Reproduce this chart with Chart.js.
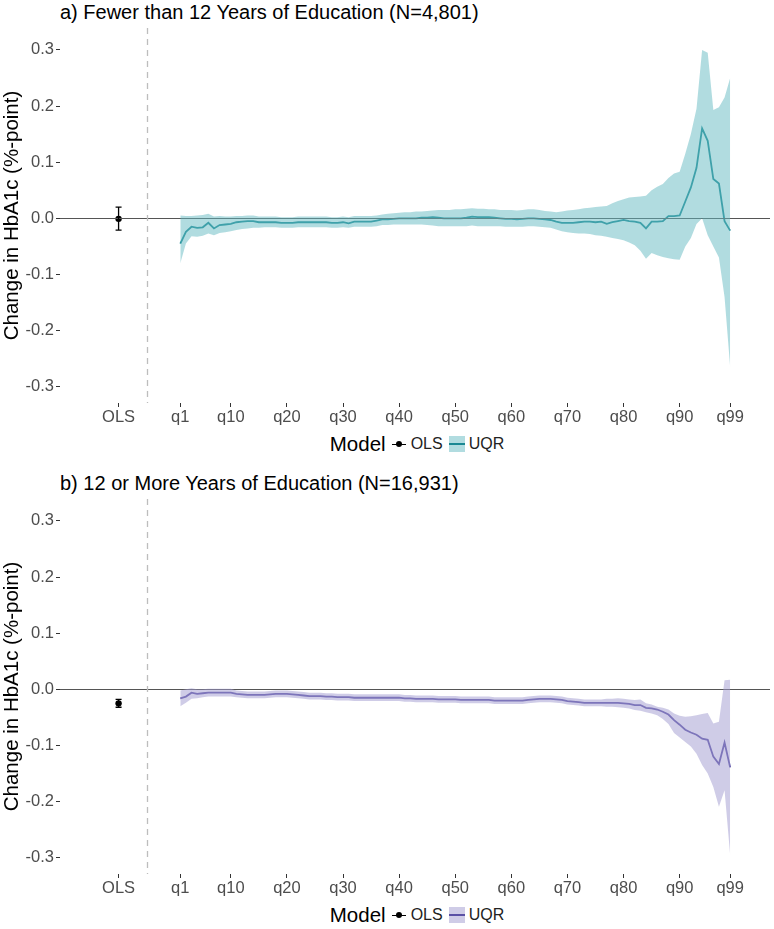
<!DOCTYPE html>
<html>
<head>
<meta charset="utf-8">
<script src="https://cdn.jsdelivr.net/npm/chart.js@4.4.0/dist/chart.umd.min.js"></script>
<style>
  body { margin: 0; background: #fff; width: 774px; height: 929px; position: relative; overflow: hidden;
         font-family: "Liberation Sans", Arial, sans-serif; }
  .panel { position: absolute; left: 0; }
  .title { position: absolute; left: 60px; font-size: 20px; color: #000; white-space: nowrap; line-height: 22px; }
  .legend { position: absolute; left: 60px; width: 714px; display: flex; justify-content: center; align-items: center;
            font-size: 16px; color: #222; line-height: 22px; }
  .legend .name { font-size: 20.5px; color: #000; margin-right: 5px; }
  .key { position: relative; display: inline-block; width: 16px; height: 16px; margin-right: 4px; }
  .key.pt::before { content: ""; position: absolute; left: 1px; right: 1px; top: 7.5px; height: 1px; background: #000; }
  .key.pt::after { content: ""; position: absolute; left: 5px; top: 5px; width: 6px; height: 6px; border-radius: 50%; background: #000; }
  .key.rib::after { content: ""; position: absolute; left: 0; right: 0; top: 7px; height: 2px; }
  #keyA { background: rgba(100,186,194,0.5); }
  #keyB { background: rgba(160,154,208,0.5); }
  #keyA::after { background: #1a8893; }
  #keyB::after { background: #5a50a5; }
</style>
</head>
<body>
<div class="title" style="top:1px">a) Fewer than 12 Years of Education (N=4,801)</div>
<canvas id="chartA" class="panel" width="774" height="430" style="top:0"></canvas>
<div class="legend" style="top:433px">
  <span class="name">Model</span>
  <span class="key pt"></span><span style="margin-right:6px">OLS</span>
  <span class="key rib" id="keyA"></span><span>UQR</span>
</div>

<div class="title" style="top:472px">b) 12 or More Years of Education (N=16,931)</div>
<canvas id="chartB" class="panel" width="774" height="430" style="top:471px"></canvas>
<div class="legend" style="top:904px">
  <span class="name">Model</span>
  <span class="key pt"></span><span style="margin-right:6px">OLS</span>
  <span class="key rib" id="keyB"></span><span>UQR</span>
</div>

<script>
// quantile positions q1..q99
const quantiles = Array.from({ length: 99 }, (_, i) => i + 1);
const olsPos = -10;
const xTickValues = [-10, 1, 10, 20, 30, 40, 50, 60, 70, 80, 90, 99];
const xTickLabels = ["OLS", "q1", "q10", "q20", "q30", "q40", "q50", "q60", "q70", "q80", "q90", "q99"];
const yTickValues = [-0.3, -0.2, -0.1, 0, 0.1, 0.2, 0.3];
const yTickLabels = ["-0.3", "-0.2", "-0.1", "0.0", "0.1", "0.2", "0.3"];

// OLS estimates [panel a, panel b]
const olsEst = [-0.001, -0.025];
const olsLow = [-0.021, -0.032];
const olsHigh = [0.020, -0.018];

// panel a: fewer than 12 years
const uqrEstA = [
  -0.045, -0.024, -0.015, -0.017, -0.016, -0.008, -0.018, -0.012, -0.011, -0.010,
  -0.007, -0.006, -0.005, -0.005, -0.007, -0.007, -0.007, -0.007, -0.008, -0.008,
  -0.008, -0.007, -0.007, -0.007, -0.007, -0.007, -0.007, -0.008, -0.008, -0.007,
  -0.009, -0.006, -0.006, -0.006, -0.006, -0.004, -0.002, -0.002, -0.001, 0.000,
  0.000, 0.000, 0.000, 0.001, 0.001, 0.002, 0.001, 0.000, 0.000, 0.000,
  0.000, 0.001, 0.003, 0.002, 0.002, 0.002, 0.001, 0.000, -0.001, -0.001,
  -0.002, -0.001, 0.000, 0.000, -0.001, -0.002, -0.003, -0.006, -0.008, -0.008,
  -0.008, -0.007, -0.006, -0.006, -0.007, -0.006, -0.010, -0.007, -0.005, -0.003,
  -0.005, -0.006, -0.008, -0.018, -0.006, -0.006, -0.005, 0.004, 0.004, 0.005,
  0.030, 0.055, 0.090, 0.160, 0.138, 0.070, 0.062, -0.005, -0.022
];
const uqrLowA = [
  -0.080, -0.045, -0.032, -0.033, -0.031, -0.027, -0.030, -0.026, -0.025, -0.023,
  -0.021, -0.019, -0.018, -0.017, -0.017, -0.016, -0.016, -0.016, -0.017, -0.017,
  -0.017, -0.016, -0.016, -0.016, -0.016, -0.016, -0.016, -0.017, -0.017, -0.016,
  -0.017, -0.015, -0.015, -0.015, -0.015, -0.014, -0.012, -0.012, -0.011, -0.011,
  -0.011, -0.011, -0.011, -0.011, -0.012, -0.013, -0.014, -0.014, -0.014, -0.014,
  -0.014, -0.014, -0.013, -0.014, -0.014, -0.014, -0.014, -0.014, -0.015, -0.015,
  -0.015, -0.015, -0.014, -0.014, -0.015, -0.016, -0.017, -0.020, -0.023, -0.025,
  -0.026, -0.027, -0.027, -0.028, -0.030, -0.031, -0.033, -0.035, -0.037, -0.039,
  -0.043, -0.048, -0.058, -0.072, -0.062, -0.066, -0.069, -0.071, -0.073, -0.074,
  -0.050, -0.035, -0.010, 0.000, -0.030, -0.050, -0.070, -0.140, -0.265
];
const uqrHighA = [
  0.005, 0.004, 0.004, 0.005, 0.006, 0.008, 0.003, 0.004, 0.003, 0.003,
  0.004, 0.004, 0.005, 0.005, 0.003, 0.003, 0.003, 0.003, 0.002, 0.002,
  0.002, 0.003, 0.003, 0.003, 0.003, 0.003, 0.003, 0.002, 0.002, 0.003,
  0.002, 0.004, 0.004, 0.004, 0.004, 0.005, 0.007, 0.008, 0.009, 0.010,
  0.011, 0.011, 0.012, 0.012, 0.013, 0.014, 0.015, 0.015, 0.015, 0.016,
  0.016, 0.017, 0.018, 0.017, 0.017, 0.016, 0.016, 0.015, 0.015, 0.015,
  0.014, 0.015, 0.016, 0.016, 0.015, 0.013, 0.012, 0.011, 0.012, 0.014,
  0.015, 0.016, 0.018, 0.019, 0.020, 0.021, 0.022, 0.027, 0.031, 0.034,
  0.037, 0.038, 0.039, 0.040, 0.050, 0.056, 0.061, 0.072, 0.080, 0.083,
  0.115, 0.150, 0.195, 0.300, 0.295, 0.193, 0.198, 0.215, 0.250
];

// panel b: 12 or more years
const uqrEstB = [
  -0.016, -0.013, -0.006, -0.008, -0.007, -0.006, -0.006, -0.006, -0.006, -0.006,
  -0.008, -0.009, -0.010, -0.010, -0.010, -0.010, -0.009, -0.008, -0.008, -0.008,
  -0.009, -0.010, -0.011, -0.012, -0.012, -0.012, -0.013, -0.013, -0.014, -0.014,
  -0.014, -0.015, -0.015, -0.015, -0.015, -0.015, -0.015, -0.015, -0.015, -0.015,
  -0.016, -0.016, -0.017, -0.017, -0.017, -0.017, -0.018, -0.018, -0.018, -0.018,
  -0.019, -0.019, -0.019, -0.019, -0.019, -0.019, -0.020, -0.020, -0.020, -0.020,
  -0.020, -0.020, -0.019, -0.018, -0.017, -0.017, -0.017, -0.018, -0.019, -0.021,
  -0.022, -0.023, -0.024, -0.024, -0.024, -0.024, -0.024, -0.024, -0.024, -0.025,
  -0.026, -0.028, -0.028, -0.033, -0.034, -0.036, -0.040, -0.045, -0.055, -0.063,
  -0.072, -0.077, -0.081, -0.088, -0.090, -0.120, -0.133, -0.095, -0.139
];
const uqrLowB = [
  -0.030, -0.024, -0.017, -0.016, -0.014, -0.013, -0.013, -0.013, -0.013, -0.013,
  -0.014, -0.015, -0.016, -0.016, -0.016, -0.016, -0.015, -0.014, -0.014, -0.014,
  -0.015, -0.016, -0.017, -0.018, -0.018, -0.018, -0.019, -0.019, -0.020, -0.020,
  -0.020, -0.021, -0.021, -0.021, -0.021, -0.021, -0.021, -0.021, -0.021, -0.021,
  -0.022, -0.022, -0.023, -0.023, -0.023, -0.023, -0.024, -0.024, -0.024, -0.024,
  -0.025, -0.025, -0.025, -0.025, -0.025, -0.025, -0.026, -0.026, -0.026, -0.026,
  -0.026, -0.026, -0.025, -0.024, -0.023, -0.023, -0.023, -0.024, -0.025, -0.027,
  -0.028, -0.029, -0.030, -0.030, -0.030, -0.030, -0.031, -0.031, -0.032, -0.033,
  -0.034, -0.037, -0.038, -0.041, -0.043, -0.046, -0.053, -0.062, -0.078, -0.086,
  -0.094, -0.102, -0.115, -0.135, -0.150, -0.174, -0.209, -0.180, -0.295
];
const uqrHighB = [
  -0.002, 0.000, 0.002, 0.000, 0.000, 0.001, 0.001, 0.001, 0.001, 0.001,
  -0.002, -0.003, -0.004, -0.004, -0.004, -0.004, -0.003, -0.002, -0.002, -0.002,
  -0.003, -0.004, -0.005, -0.006, -0.006, -0.006, -0.007, -0.007, -0.008, -0.008,
  -0.008, -0.009, -0.009, -0.009, -0.009, -0.009, -0.009, -0.009, -0.009, -0.009,
  -0.010, -0.010, -0.011, -0.011, -0.011, -0.011, -0.012, -0.012, -0.012, -0.012,
  -0.013, -0.013, -0.013, -0.013, -0.013, -0.013, -0.014, -0.014, -0.014, -0.014,
  -0.014, -0.014, -0.013, -0.012, -0.011, -0.011, -0.011, -0.012, -0.013, -0.015,
  -0.016, -0.017, -0.018, -0.018, -0.018, -0.018, -0.017, -0.017, -0.016, -0.017,
  -0.018, -0.019, -0.018, -0.025, -0.027, -0.031, -0.033, -0.036, -0.043, -0.047,
  -0.049, -0.048, -0.046, -0.044, -0.042, -0.061, -0.058, 0.016, 0.017
];

// zero line, dashed separator and OLS error bar
const decorations = {
  id: "decorations",
  afterDatasetDraw(chart, args, opts) {
    if (args.index !== 1) return;
    const { ctx, chartArea: a, scales: { x, y } } = chart;
    ctx.save();
    const y0 = Math.round(y.getPixelForValue(0)) + 0.5;
    ctx.strokeStyle = "#555";
    ctx.lineWidth = 1;
    ctx.beginPath(); ctx.moveTo(a.left, y0); ctx.lineTo(a.right, y0); ctx.stroke();
    const xs = Math.round(x.getPixelForValue(-5)) + 0.5;
    ctx.strokeStyle = "#bdbdbd";
    ctx.lineWidth = 1.3;
    ctx.setLineDash([6, 5]);
    ctx.beginPath(); ctx.moveTo(xs, a.top); ctx.lineTo(xs, a.bottom); ctx.stroke();
    ctx.setLineDash([]);
    const xo = x.getPixelForValue(olsPos);
    const yl = y.getPixelForValue(olsLow[opts.panel]);
    const yh = y.getPixelForValue(olsHigh[opts.panel]);
    ctx.strokeStyle = "#000";
    ctx.lineWidth = 1.3;
    ctx.beginPath();
    ctx.moveTo(xo, yl); ctx.lineTo(xo, yh);
    ctx.moveTo(xo - 3, yl); ctx.lineTo(xo + 3, yl);
    ctx.moveTo(xo - 3, yh); ctx.lineTo(xo + 3, yh);
    ctx.stroke();
    ctx.restore();
  }
};

function makeChart(id, panel, est, low, high, lineColor, ribbonColor) {
  const pts = arr => quantiles.map((q, i) => ({ x: q, y: arr[i] }));
  return new Chart(document.getElementById(id), {
    type: "line",
    data: {
      datasets: [
        { data: pts(high), borderWidth: 0, pointRadius: 0, fill: "+1", backgroundColor: ribbonColor },
        { data: pts(low), borderWidth: 0, pointRadius: 0, fill: false },
        { data: pts(est), borderColor: lineColor, borderWidth: 1.8, pointRadius: 0, fill: false, tension: 0 },
        { type: "scatter", data: [{ x: olsPos, y: olsEst[panel] }], pointRadius: 3.2, backgroundColor: "#000", borderWidth: 0 }
      ]
    },
    plugins: [decorations],
    options: {
      responsive: false,
      animation: false,
      devicePixelRatio: 1,
      layout: { padding: { top: 28, left: 0, right: 0, bottom: 0 } },
      plugins: {
        legend: { display: false },
        tooltip: { enabled: false },
        decorations: { panel: panel }
      },
      scales: {
        x: {
          type: "linear",
          min: -20.44,
          max: 106.1,
          afterBuildTicks: s => { s.ticks = xTickValues.map(v => ({ value: v })); },
          afterFit: s => { s.height = 27; },
          ticks: {
            autoSkip: false, maxRotation: 0, padding: 1, color: "#4d4d4d",
            font: { family: "Liberation Sans", size: 16.5 },
            callback: (v) => xTickLabels[xTickValues.indexOf(v)]
          },
          grid: { display: true, drawOnChartArea: false, drawTicks: true, tickLength: 4, color: "#333", lineWidth: 1 },
          border: { display: false }
        },
        y: {
          min: -0.329,
          max: 0.339,
          afterBuildTicks: s => { s.ticks = yTickValues.map(v => ({ value: v })); },
          afterFit: s => { s.width = 60; },
          ticks: {
            padding: 2, color: "#4d4d4d",
            font: { family: "Liberation Sans", size: 16.5 },
            callback: (v) => yTickLabels[yTickValues.findIndex(t => Math.abs(t - v) < 1e-9)]
          },
          grid: { display: true, drawOnChartArea: false, drawTicks: true, tickLength: 4, color: "#333", lineWidth: 1 },
          border: { display: false },
          title: {
            display: true, text: "Change in HbA1c (%-point)", color: "#000",
            font: { family: "Liberation Sans", size: 20.5 }, padding: { top: 0, bottom: 0 }
          }
        }
      }
    }
  });
}

makeChart("chartA", 0, uqrEstA, uqrLowA, uqrHighA, "#1a8893", "rgba(100,186,194,0.5)");
makeChart("chartB", 1, uqrEstB, uqrLowB, uqrHighB, "#5a50a5", "rgba(160,154,208,0.5)");
</script>
</body>
</html>
